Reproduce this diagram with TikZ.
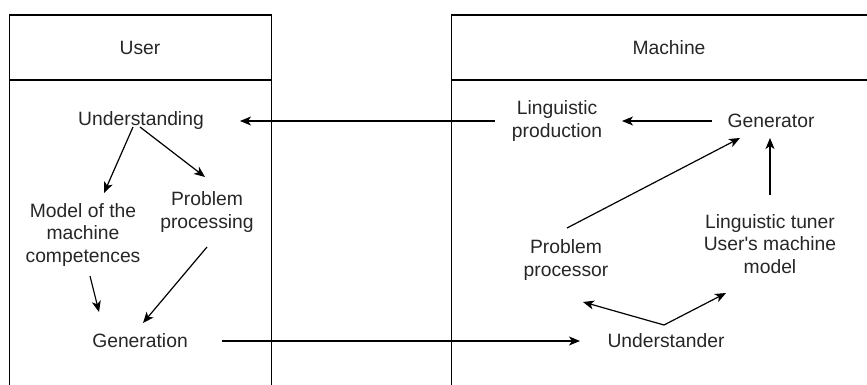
\documentclass[tikz,border=0pt]{standalone}
\usepackage{fontspec}
\setmainfont{Liberation Sans}[Ligatures=TeXOff]
\usetikzlibrary{arrows.meta}

\begin{document}
\begin{tikzpicture}[x=1pt,y=-1pt,
  lbl/.style={align=center,inner sep=0pt,text=black!85,font=\fontsize{19.3}{22.3}\selectfont},
  arr/.style={line width=1.2pt,-{Stealth[length=11pt,width=9pt,inset=3pt]}},
  lane/.style={line width=1.2pt}]
  \useasboundingbox (0,0) rectangle (867,385);

  \draw[lane] (9.5,385) -- (9.5,15) -- (271.5,15) -- (271.5,385);
  \draw[lane] (9.5,80) -- (271.5,80);
  \draw[lane] (451.5,385) -- (451.5,15) -- (867,15);
  \draw[lane] (451.5,80) -- (867,80);

  \node[lbl] at (140,48) (user) {User};
  \node[lbl] at (669,48) (machine) {Machine};

  \node[lbl] at (141,121) (und) {Understanding};
  \node[lbl] at (83,235) (model) {Model of the\\machine\\competences};
  \node[lbl] at (207,212) (prob) {Problem\\processing};
  \node[lbl] at (140,341) (gen) {Generation};

  \node[lbl] at (557,121) (linprod) {Linguistic\\production};
  \node[lbl] at (771,121) (generator) {Generator};
  \node[lbl] at (566,260) (procr) {Problem\\processor};
  \node[lbl] at (770,244) (tuner) {Linguistic tuner\\User's machine\\model};
  \node[lbl] at (666,341) (underst) {Understander};

  \draw[arr] ([shift={(-8,6)}]und.center) -- ([shift={(21,-42)}]model.center);
  \draw[arr] ([shift={(-1,6)}]und.center) -- ([shift={(-2,-35)}]prob.center);
  \draw[arr] ([shift={(7,41)}]model.center) -- ([shift={(-41,-29)}]gen.center);
  \draw[arr] ([shift={(0,35)}]prob.center) -- ([shift={(3,-18)}]gen.center);

  \draw[arr] ([shift={(-62,0)}]linprod.center) -- ([shift={(99,0)}]und.center);
  \draw[arr] ([shift={(82,0)}]gen.center) -- ([shift={(-86,0)}]underst.center);

  \draw[arr] ([shift={(-59,0)}]generator.center) -- ([shift={(65,0)}]linprod.center);
  \draw[arr] ([shift={(1,-32)}]procr.center) -- ([shift={(-31,17)}]generator.center);
  \draw[arr] ([shift={(0,-49)}]tuner.center) -- ([shift={(-1,17)}]generator.center);
  \draw[arr] ([shift={(-2,-16)}]underst.center) -- ([shift={(17,42)}]procr.center);
  \draw[arr] ([shift={(-2,-16)}]underst.center) -- ([shift={(-44,49)}]tuner.center);

\end{tikzpicture}
\end{document}
